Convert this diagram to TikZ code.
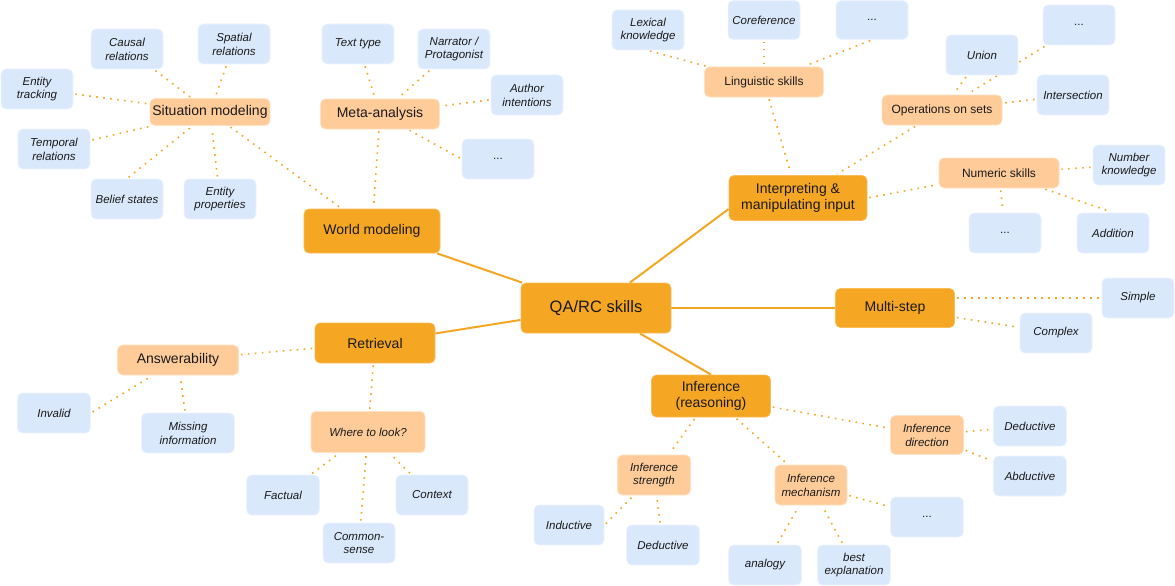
\documentclass[tikz,border=0pt]{standalone}
\usepackage{fontspec}
\setmainfont{Liberation Sans}
\usetikzlibrary{backgrounds}
\definecolor{orangeM}{HTML}{F5A623}
\definecolor{peach}{HTML}{FFCC99}
\definecolor{blueL}{HTML}{DAE8FC}
\definecolor{txt}{HTML}{1A1A1A}
\tikzset{
  box/.style={rounded corners=5pt, inner sep=0pt, align=center, text=txt, line width=0.8pt},
  mainbox/.style={box, fill=orangeM, draw=orangeM!75!white, font=\fontsize{14}{16.5}\selectfont},
  subbox/.style={box, fill=peach, draw=peach!60!white, font=\fontsize{14}{16.5}\selectfont},
  subsmall/.style={box, fill=peach, draw=peach!60!white, font=\fontsize{12}{14}\selectfont},
  subital/.style={box, fill=peach, draw=peach!60!white, font=\fontsize{11.5}{13.8}\selectfont\itshape, minimum width=73pt, minimum height=40pt},
  leaf/.style={box, fill=blueL, draw=blueL!50!white, font=\fontsize{11.5}{13.8}\selectfont\itshape, minimum width=72pt, minimum height=40pt},
  dotsleaf/.style={leaf, font=\fontsize{11.5}{13.8}\selectfont},
  solidlink/.style={draw=orangeM, line width=2pt},
  dotlink/.style={draw=orangeM, line width=1.6pt, dash pattern=on 1.6pt off 5.4pt, shorten <=2pt, shorten >=2pt}
}
\begin{document}
\begin{tikzpicture}[x=1pt,y=-1pt]
\useasboundingbox (0,0) rectangle (1175,586);

% main nodes
\node[mainbox, minimum width=150pt, minimum height=50pt, font=\fontsize{16.5}{19}\selectfont] (qa) at (596,308) {QA/RC skills};
\node[mainbox, minimum width=136pt, minimum height=44pt] (wm) at (372,231) {World modeling};
\node[mainbox, minimum width=138pt, minimum height=45pt] (interp) at (798,198) {Interpreting \&\\manipulating input};
\node[mainbox, minimum width=119pt, minimum height=39pt] (ms) at (895,308) {Multi-step};
\node[mainbox, minimum width=120pt, minimum height=40pt] (retr) at (375,343) {Retrieval};
\node[mainbox, minimum width=119pt, minimum height=42pt] (inf) at (711,396) {Inference\\(reasoning)};

% secondary nodes
\node[subbox, minimum width=120pt, minimum height=27pt] (sm) at (210,112) {Situation modeling};
\node[subbox, minimum width=119pt, minimum height=30pt] (meta) at (380,114) {Meta-analysis};
\node[subsmall, minimum width=119pt, minimum height=30pt] (ling) at (764,82) {Linguistic skills};
\node[subsmall, minimum width=120pt, minimum height=30pt] (ops) at (942,110) {Operations on sets};
\node[subsmall, minimum width=120pt, minimum height=30pt] (num) at (999,173) {Numeric skills};
\node[subbox, minimum width=121pt, minimum height=30pt] (ans) at (178,360) {Answerability};
\node[subital, minimum width=114pt, minimum height=41pt] (where) at (368,432) {Where to look?};
\node[subital, minimum height=39pt] (infdir) at (927,435) {Inference\\direction};
\node[subital] (infstr) at (654,475) {Inference\\strength};
\node[subital, minimum width=72pt] (infmech) at (811,485) {Inference\\mechanism};

% leaves: world modeling
\node[leaf] (causal) at (127,49) {Causal\\relations};
\node[leaf] (spatial) at (234,44) {Spatial\\relations};
\node[leaf] (etrack) at (37,89) {Entity\\tracking};
\node[leaf] (temporal) at (54,149) {Temporal\\relations};
\node[leaf] (belief) at (127,199) {Belief states};
\node[leaf] (eprop) at (220,199) {Entity\\properties};
\node[leaf] (texttype) at (358,44) {Text type};
\node[leaf] (narrator) at (454,49) {Narrator /\\Protagonist};
\node[leaf] (author) at (527,95) {Author\\intentions};
\node[dotsleaf] (metadots) at (498,159) {...};

% leaves: interpreting
\node[leaf] (lexical) at (648,30) {Lexical\\knowledge};
\node[leaf, minimum height=39pt] (coref) at (764,20) {Coreference};
\node[dotsleaf, minimum height=39pt] (lingdots) at (872,20) {...};
\node[dotsleaf] (setdots) at (1079,25) {...};
\node[leaf] (union) at (982,55) {Union};
\node[leaf] (intersect) at (1073,95) {Intersection};
\node[leaf] (numknow) at (1129,165) {Number\\knowledge};
\node[dotsleaf] (numdots) at (1005,233) {...};
\node[leaf] (addition) at (1113,233) {Addition};

% leaves: multi-step
\node[leaf] (simple) at (1138,298) {Simple};
\node[leaf] (complex) at (1056,333) {Complex};

% leaves: retrieval
\node[leaf, minimum width=73pt] (invalid) at (54,413) {Invalid};
\node[leaf, minimum width=93pt] (missing) at (188,433) {Missing\\information};
\node[leaf, minimum width=73pt] (factual) at (283,495) {Factual};
\node[leaf] (common) at (359,543) {Common-\\sense};
\node[leaf] (context) at (432,495) {Context};

% leaves: inference
\node[leaf, minimum width=73pt] (deddir) at (1030,426) {Deductive};
\node[leaf, minimum width=73pt] (abductive) at (1030,476) {Abductive};
\node[leaf, minimum width=70pt] (inductive) at (569,525) {Inductive};
\node[leaf, minimum width=73pt] (dedstr) at (663,545) {Deductive};
\node[leaf, minimum width=73pt] (analogy) at (765,565) {analogy};
\node[leaf, minimum width=73pt] (bestexp) at (854,565) {best\\explanation};
\node[dotsleaf, minimum width=73pt] (mechdots) at (927,517) {...};

\begin{scope}[on background layer]
% solid links
\draw[solidlink] (qa) -- (wm);
\draw[solidlink] (qa) -- (retr);
\draw[solidlink] (qa) -- (ms);
\draw[solidlink] (qa) -- (inf.north);
\draw[solidlink] (qa) -- ([yshift=-11pt]interp.west);

% world modeling
\draw[dotlink] (sm) -- (wm);
\draw[dotlink] (causal) -- (sm);
\draw[dotlink] (spatial) -- (sm);
\draw[dotlink] (etrack) -- (sm);
\draw[dotlink] (temporal) -- (sm);
\draw[dotlink] (belief.north) -- (sm);
\draw[dotlink] (eprop) -- (sm);
\draw[dotlink] (meta) -- (wm);
\draw[dotlink] (texttype) -- (meta);
\draw[dotlink] (narrator) -- (meta);
\draw[dotlink] (author) -- (meta);
\draw[dotlink] (metadots.west) -- (meta);

% interpreting
\draw[dotlink] (lexical.south) -- (ling);
\draw[dotlink] (coref) -- (ling);
\draw[dotlink] (lingdots.south) -- (ling);
\draw[dotlink] (ling) -- (interp);
\draw[dotlink] (ops) -- (interp);
\draw[dotlink] (union) -- (ops);
\draw[dotlink] (setdots) -- (ops);
\draw[dotlink] (intersect) -- (ops);
\draw[dotlink] (interp.east) -- (num);
\draw[dotlink] (numknow) -- (num);
\draw[dotlink] (num) -- (numdots);
\draw[dotlink] (num) -- (addition.north);

% multi-step
\draw[dotlink] (simple.west -| ms.east) -- (simple.west);
\draw[dotlink] (ms) -- (complex);

% retrieval
\draw[dotlink] (ans) -- (retr);
\draw[dotlink] (invalid.east) -- (ans);
\draw[dotlink] (missing) -- (ans);
\draw[dotlink] (retr) -- (where);
\draw[dotlink] (factual) -- (where);
\draw[dotlink] (common) -- (where);
\draw[dotlink] (context) -- (where);

% inference
\draw[dotlink] (inf) -- (infstr);
\draw[dotlink] (inf) -- (infmech);
\draw[dotlink] (inf) -- (infdir);
\draw[dotlink] (inductive.east) -- (infstr);
\draw[dotlink] (dedstr) -- (infstr);
\draw[dotlink] (analogy) -- (infmech);
\draw[dotlink] (bestexp) -- (infmech);
\draw[dotlink] (infmech) -- (mechdots);
\draw[dotlink] (infdir) -- (deddir);
\draw[dotlink] (infdir) -- (abductive);
\end{scope}
\end{tikzpicture}
\end{document}
